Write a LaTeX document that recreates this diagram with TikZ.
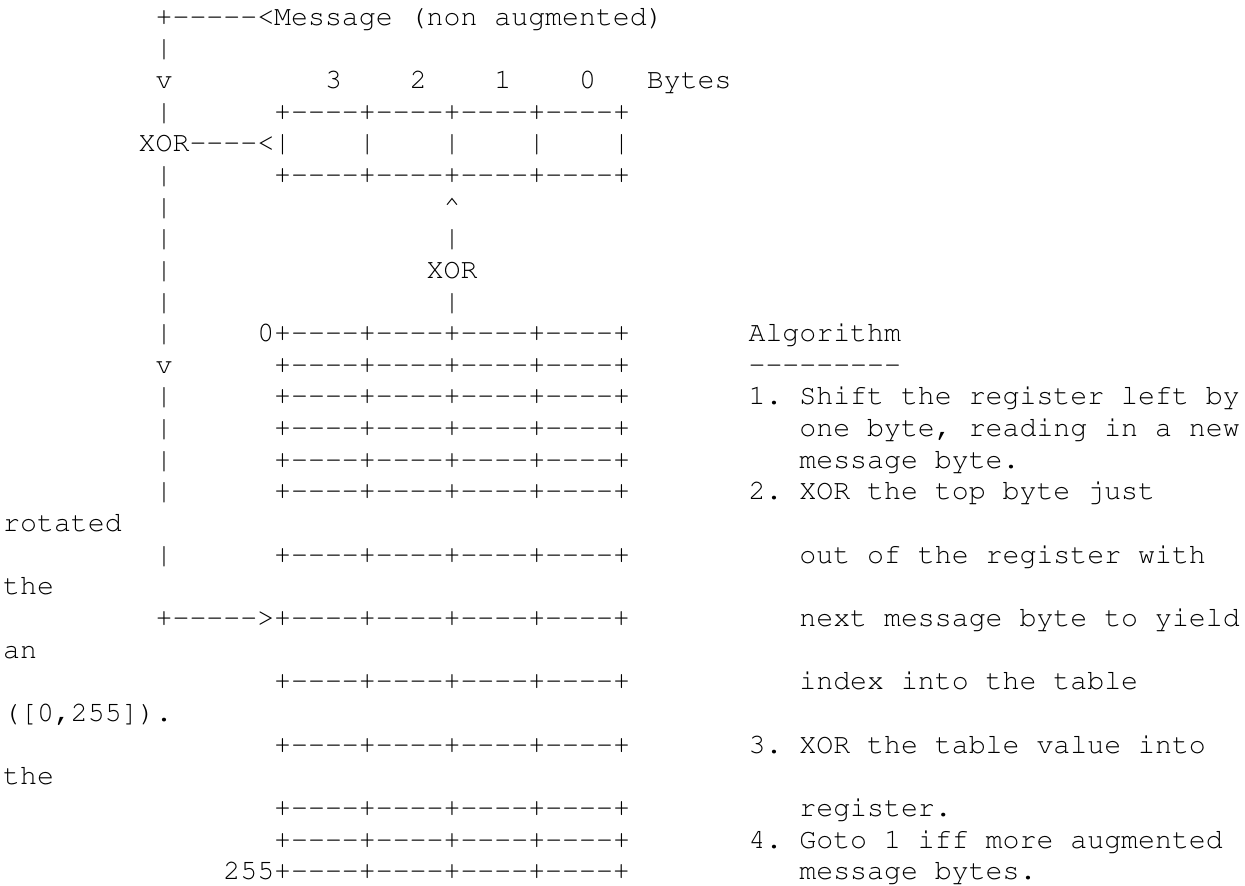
\documentclass[tikz,border=0pt]{standalone}
\usepackage[T1,TU]{fontenc}
\newcommand{\asciifont}{\fontencoding{T1}\fontfamily{pcr}\fontseries{m}\fontshape{n}\fontsize{28.23pt}{31.65pt}\selectfont\frenchspacing}
\newcommand{\bx}{+-{}-{}-{}-{}+-{}-{}-{}-{}+-{}-{}-{}-{}+-{}-{}-{}-{}+}
\newcommand{\asciifrag}[4]{\node[txt] (#1) at ({3.2+16.94*#2},{6.5-31.65*#3}) {#4};}
\begin{document}
\begin{tikzpicture}[x=1pt,y=1pt,
  txt/.style={anchor=base west, inner sep=0pt, outer sep=0pt, font=\asciifont, text=black}]
\fill[white] (0,-886) rectangle (1245,0);
\useasboundingbox (0,-886) rectangle (1245,0);
% line 1
\asciifrag{msg}{9}{1}{+-{}-{}-{}-{}-{}<Message (non augmented)}
% line 2
\asciifrag{v2}{9}{2}{|}
% line 3
\asciifrag{v3}{9}{3}{v}
\asciifrag{b3}{19}{3}{3}
\asciifrag{b2}{24}{3}{2}
\asciifrag{b1}{29}{3}{1}
\asciifrag{b0}{34}{3}{0}
\asciifrag{bytes}{38}{3}{Bytes}
% line 4
\asciifrag{v4}{9}{4}{|}
\asciifrag{regtop}{16}{4}{\bx}
% line 5
\asciifrag{xorl}{8}{5}{XOR-{}-{}-{}-{}<}
\asciifrag{r5a}{16}{5}{|}
\asciifrag{r5b}{21}{5}{|}
\asciifrag{r5c}{26}{5}{|}
\asciifrag{r5d}{31}{5}{|}
\asciifrag{r5e}{36}{5}{|}
% line 6
\asciifrag{v6}{9}{6}{|}
\asciifrag{regbot}{16}{6}{\bx}
% line 7-10
\asciifrag{v7}{9}{7}{|}
\asciifrag{up}{26}{7}{\textasciicircum}
\asciifrag{v8}{9}{8}{|}
\asciifrag{m8}{26}{8}{|}
\asciifrag{v9}{9}{9}{|}
\asciifrag{xorm}{25}{9}{XOR}
\asciifrag{v10}{9}{10}{|}
\asciifrag{m10}{26}{10}{|}
% line 11
\asciifrag{v11}{9}{11}{|}
\asciifrag{t11}{15}{11}{0\bx}
\asciifrag{alg}{44}{11}{Algorithm}
% line 12
\asciifrag{v12}{9}{12}{v}
\asciifrag{t12}{16}{12}{\bx}
\asciifrag{algu}{44}{12}{-{}-{}-{}-{}-{}-{}-{}-{}-{}}
% line 13
\asciifrag{v13}{9}{13}{|}
\asciifrag{t13}{16}{13}{\bx}
\asciifrag{s1}{44}{13}{1. Shift the register left by}
% line 14
\asciifrag{v14}{9}{14}{|}
\asciifrag{t14}{16}{14}{\bx}
\asciifrag{s1b}{47}{14}{one byte, reading in a new}
% line 15
\asciifrag{v15}{9}{15}{|}
\asciifrag{t15}{16}{15}{\bx}
\asciifrag{s1c}{47}{15}{message byte.}
% line 16
\asciifrag{v16}{9}{16}{|}
\asciifrag{t16}{16}{16}{\bx}
\asciifrag{s2}{44}{16}{2. XOR the top byte just}
% line 17
\asciifrag{w17}{0}{17}{rotated}
% line 18
\asciifrag{v18}{9}{18}{|}
\asciifrag{t18}{16}{18}{\bx}
\asciifrag{s2b}{47}{18}{out of the register with}
% line 19
\asciifrag{w19}{0}{19}{the}
% line 20
\asciifrag{feed}{9}{20}{+-{}-{}-{}-{}-{}>\bx}
\asciifrag{s2c}{47}{20}{next message byte to yield}
% line 21
\asciifrag{w21}{0}{21}{an}
% line 22
\asciifrag{t22}{16}{22}{\bx}
\asciifrag{s2d}{47}{22}{index into the table}
% line 23
\asciifrag{w23}{0}{23}{([0,255]).}
% line 24
\asciifrag{t24}{16}{24}{\bx}
\asciifrag{s3}{44}{24}{3. XOR the table value into}
% line 25
\asciifrag{w25}{0}{25}{the}
% line 26
\asciifrag{t26}{16}{26}{\bx}
\asciifrag{s3b}{47}{26}{register.}
% line 27
\asciifrag{t27}{16}{27}{\bx}
\asciifrag{s4}{44}{27}{4. Goto 1 iff more augmented}
% line 28
\asciifrag{t28}{13}{28}{255\bx}
\asciifrag{s4b}{47}{28}{message bytes.}
\end{tikzpicture}
\end{document}
